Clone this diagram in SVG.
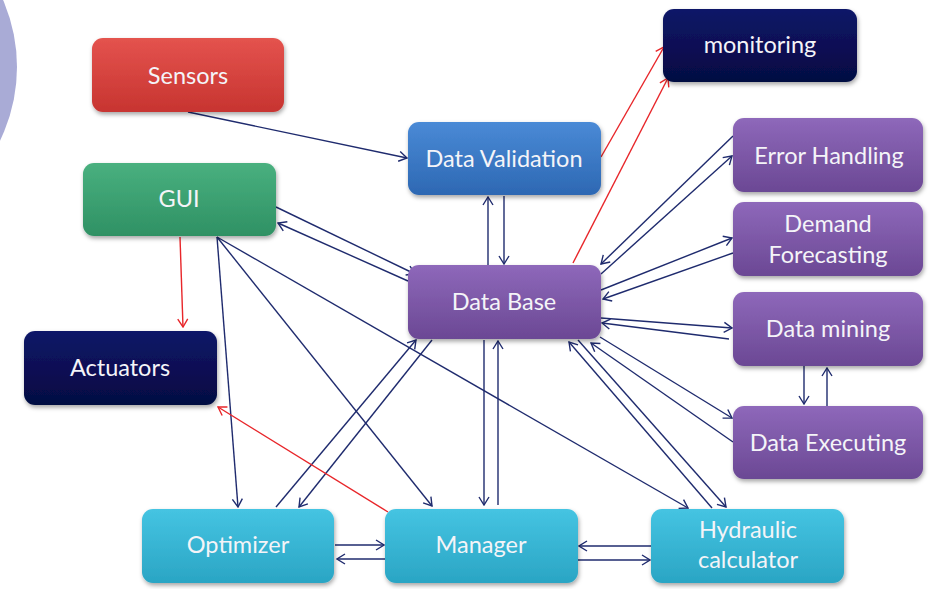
<svg xmlns="http://www.w3.org/2000/svg" width="933" height="589" viewBox="0 0 933 589">
<style>
.box{stroke:none;filter:url(#sh)}
.t{font-family:Lato,"Open Sans",sans-serif;font-size:23.5px;fill:#f4f4f8;text-anchor:middle}
.c{fill:none;stroke:#1f2b6e;stroke-width:1.4;marker-end:url(#an)}
.r{fill:none;stroke:#e8262a;stroke-width:1.4;marker-end:url(#ar)}
</style>
<defs>
<filter id="sh" x="-10%" y="-10%" width="125%" height="135%"><feDropShadow dx="1" dy="2.5" stdDeviation="2" flood-color="#000" flood-opacity="0.35"/></filter>
<linearGradient id="gRed" x1="0" y1="0" x2="0" y2="1"><stop offset="0" stop-color="#e4534e"/><stop offset="1" stop-color="#c73430"/></linearGradient>
<linearGradient id="gGreen" x1="0" y1="0" x2="0" y2="1"><stop offset="0" stop-color="#49b07f"/><stop offset="1" stop-color="#2f9164"/></linearGradient>
<linearGradient id="gBlue" x1="0" y1="0" x2="0" y2="1"><stop offset="0" stop-color="#4a8ad6"/><stop offset="1" stop-color="#2d68b3"/></linearGradient>
<linearGradient id="gNavy" x1="0" y1="0" x2="0" y2="1"><stop offset="0" stop-color="#0e1668"/><stop offset="1" stop-color="#050a42"/></linearGradient>
<linearGradient id="gPurple" x1="0" y1="0" x2="0" y2="1"><stop offset="0" stop-color="#8e68ba"/><stop offset="1" stop-color="#6b4894"/></linearGradient>
<linearGradient id="gCyan" x1="0" y1="0" x2="0" y2="1"><stop offset="0" stop-color="#45c4e2"/><stop offset="1" stop-color="#2aa5c4"/></linearGradient>
<marker id="an" viewBox="-10 -6 11 12" refX="0" refY="0" markerWidth="11" markerHeight="12" markerUnits="userSpaceOnUse" orient="auto"><path d="M-8,-5 L0,0 L-8,5" fill="none" stroke="#1f2b6e" stroke-width="1.4"/></marker>
<marker id="ar" viewBox="-10 -6 11 12" refX="0" refY="0" markerWidth="11" markerHeight="12" markerUnits="userSpaceOnUse" orient="auto"><path d="M-8,-5 L0,0 L-8,5" fill="none" stroke="#e8262a" stroke-width="1.4"/></marker>
</defs>
<rect width="933" height="589" fill="#ffffff"/>
<circle cx="-151" cy="67" r="168" fill="#a9abd6"/>

<g id="connectors">
<line class="c" x1="188" y1="112" x2="407" y2="158"/>
<line class="c" x1="488" y1="265" x2="488" y2="197"/>
<line class="c" x1="504" y1="196" x2="504" y2="264"/>
<line class="r" x1="601" y1="157" x2="664" y2="47"/>
<line class="r" x1="573" y1="263" x2="668" y2="78"/>
<line class="c" x1="276" y1="207" x2="415" y2="274"/>
<line class="c" x1="408" y1="281" x2="278" y2="223"/>
<line class="r" x1="180" y1="237" x2="183" y2="327"/>
<line class="c" x1="217" y1="237" x2="238" y2="507"/>
<line class="c" x1="217" y1="237" x2="432" y2="506"/>
<line class="c" x1="217" y1="237" x2="688" y2="508"/>
<line class="c" x1="276" y1="507" x2="416" y2="340"/>
<line class="c" x1="432" y1="340" x2="299" y2="507"/>
<line class="c" x1="335" y1="545" x2="384" y2="545"/>
<line class="c" x1="385" y1="559" x2="337" y2="559"/>
<line class="c" x1="484" y1="340" x2="484" y2="505"/>
<line class="c" x1="498" y1="505" x2="498" y2="341"/>
<line class="c" x1="651" y1="546" x2="579" y2="546"/>
<line class="c" x1="578" y1="560" x2="650" y2="560"/>
<line class="c" x1="712" y1="508" x2="569" y2="342"/>
<line class="c" x1="578" y1="340" x2="726" y2="507"/>
<line class="c" x1="733" y1="442" x2="591" y2="343"/>
<line class="c" x1="600" y1="337" x2="732" y2="418"/>
<line class="c" x1="601" y1="318" x2="732" y2="328"/>
<line class="c" x1="729" y1="339" x2="602" y2="323"/>
<line class="c" x1="601" y1="290" x2="732" y2="238"/>
<line class="c" x1="733" y1="253" x2="603" y2="299"/>
<line class="c" x1="733" y1="136" x2="601" y2="264"/>
<line class="c" x1="601" y1="274" x2="732" y2="156"/>
<line class="c" x1="804" y1="366" x2="804" y2="404"/>
<line class="c" x1="827" y1="406" x2="827" y2="368"/>
<line class="r" x1="388" y1="512" x2="218" y2="407"/>
</g>

<g id="sensors"><rect class="box" x="92" y="38" width="192" height="74" rx="11" fill="url(#gRed)"/><text class="t" x="188" y="84">Sensors</text></g>
<g id="gui"><rect class="box" x="83" y="163" width="193" height="73" rx="11" fill="url(#gGreen)"/><text class="t" x="179" y="207">GUI</text></g>
<g id="actuators"><rect class="box" x="24" y="331" width="193" height="74" rx="11" fill="url(#gNavy)"/><text class="t" x="120" y="376">Actuators</text></g>
<g id="monitoring"><rect class="box" x="663" y="9" width="194" height="73" rx="11" fill="url(#gNavy)"/><text class="t" x="760" y="53">monitoring</text></g>
<g id="data-validation"><rect class="box" x="408" y="122" width="193" height="73" rx="11" fill="url(#gBlue)"/><text class="t" x="504" y="167">Data Validation</text></g>
<g id="data-base"><rect class="box" x="408" y="265" width="193" height="74" rx="11" fill="url(#gPurple)"/><text class="t" x="504" y="310">Data Base</text></g>
<g id="error-handling"><rect class="box" x="733" y="118" width="190" height="74" rx="11" fill="url(#gPurple)"/><text class="t" x="829" y="164">Error Handling</text></g>
<g id="demand-forecasting"><rect class="box" x="733" y="202" width="190" height="74" rx="11" fill="url(#gPurple)"/><text class="t" x="828" y="232">Demand</text><text class="t" x="828" y="263">Forecasting</text></g>
<g id="data-mining"><rect class="box" x="733" y="292" width="190" height="74" rx="11" fill="url(#gPurple)"/><text class="t" x="828" y="337">Data mining</text></g>
<g id="data-executing"><rect class="box" x="733" y="406" width="190" height="73" rx="11" fill="url(#gPurple)"/><text class="t" x="828" y="451">Data Executing</text></g>
<g id="optimizer"><rect class="box" x="142" y="509" width="192" height="74" rx="11" fill="url(#gCyan)"/><text class="t" x="238" y="553">Optimizer</text></g>
<g id="manager"><rect class="box" x="385" y="509" width="193" height="74" rx="11" fill="url(#gCyan)"/><text class="t" x="481" y="553">Manager</text></g>
<g id="hydraulic-calculator"><rect class="box" x="651" y="509" width="193" height="74" rx="11" fill="url(#gCyan)"/><text class="t" x="748" y="538">Hydraulic</text><text class="t" x="748" y="568">calculator</text></g>
</svg>
